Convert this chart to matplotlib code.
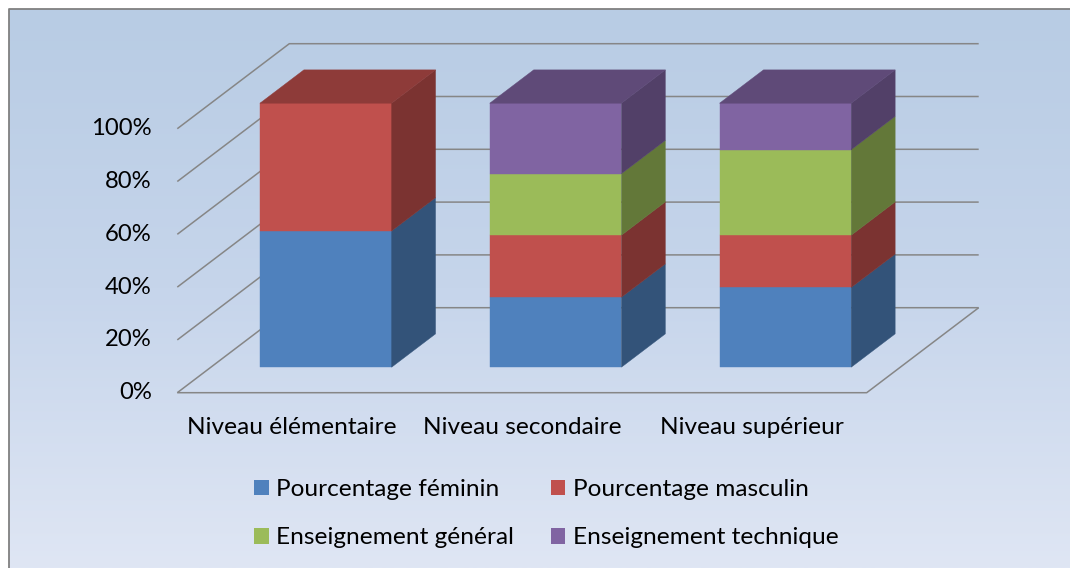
import numpy as np
import matplotlib.pyplot as plt
from matplotlib.patches import Polygon, Patch
from matplotlib.colors import to_rgb, LinearSegmentedColormap

# Data: each pair of series is given in percent and the whole stack is scaled to 100 %
categories = ["Niveau élémentaire", "Niveau secondaire", "Niveau supérieur"]
series_names = ["Pourcentage féminin", "Pourcentage masculin",
                "Enseignement général", "Enseignement technique"]
feminin = [51.6, 53.0, 60.4]
masculin = [48.4, 47.0, 39.6]
general = [0.0, 46.6, 64.8]
technique = [0.0, 53.4, 35.2]
series_colors = ["#4f81bd", "#c0504d", "#9bbb59", "#8064a2"]
y_ticks = [0, 20, 40, 60, 80, 100]

plt.rcParams['font.family'] = ['Lato', 'DejaVu Sans']
FS = 17.6
TICK_FS = 17.2

W, H = 1070, 568
fig = plt.figure(figsize=(W / 100, H / 100), dpi=100)

# background: vertical gradient with a grey border on the top and left
bg = fig.add_axes([0, 0, 1, 1])
bg.set_xlim(0, W)
bg.set_ylim(H, 0)
bg.axis('off')
grad = np.linspace(0, 1, 256).reshape(-1, 1)
cmap = LinearSegmentedColormap.from_list('bg', ['#b8cce4', '#c6d5eb', '#dfe6f4'])
bg.imshow(grad, cmap=cmap, aspect='auto', extent=[9, W, H, 9], zorder=0)
bg.plot([8.5, 8.5, W], [H, 8.5, 8.5], color='#808080', lw=1.3, zorder=1)

# main axes in (category, percent) units with an oblique depth offset
ax = fig.add_axes([0, 0, 1, 1])
ax.patch.set_alpha(0)
ax.axis('off')
x0_px, y0_px = 177.3, 392.7
px_per_cat, px_per_pct = 229.8, 2.64
ax.set_xlim(-x0_px / px_per_cat, (W - x0_px) / px_per_cat)
ax.set_ylim(-(H - y0_px) / px_per_pct, y0_px / px_per_pct)

DX = 112 / px_per_cat   # horizontal shift for full depth
DY = 85 / px_per_pct    # vertical shift for full depth
n = len(categories)


def proj(x, y, d):
    return x + d * DX, y + d * DY


grid_kw = dict(color='#868686', lw=1.1, zorder=1, solid_capstyle='butt')
for v in y_ticks:
    xa, ya = proj(0, v, 0)
    xb, yb = proj(0, v, 1)
    xc, yc = proj(n, v, 1)
    ax.plot([xa, xb, xc], [ya, yb, yc], **grid_kw)
fa = proj(0, 0, 0)
fb = proj(n, 0, 0)
fc = proj(n, 0, 1)
ax.plot([fa[0], fb[0], fc[0]], [fa[1], fb[1], fc[1]], **grid_kw)

# stacked 3D bars
values = np.array([feminin, masculin, general, technique])
shares = values / values.sum(axis=0) * 100
bar_w = 0.573
d0, d1 = 0.3, 0.692


def shade(c, f):
    return tuple(np.array(to_rgb(c)) * f)


for i in range(n):
    xl = i + (1 - bar_w) / 2
    xr = xl + bar_w
    bottom = 0.0
    nz = [k for k in range(len(series_names)) if shares[k, i] > 0]
    for k in nz:
        top = bottom + shares[k, i]
        col = series_colors[k]
        front = [proj(xl, bottom, d0), proj(xr, bottom, d0),
                 proj(xr, top, d0), proj(xl, top, d0)]
        side = [proj(xr, bottom, d0), proj(xr, bottom, d1),
                proj(xr, top, d1), proj(xr, top, d0)]
        ax.add_patch(Polygon(front, closed=True, fc=col, ec=col, lw=0.3, zorder=3))
        sc = shade(col, 0.64)
        ax.add_patch(Polygon(side, closed=True, fc=sc, ec=sc, lw=0.3, zorder=3))
        if k == nz[-1]:
            lid = [proj(xl, top, d0), proj(xr, top, d0),
                   proj(xr, top, d1), proj(xl, top, d1)]
            tc = shade(col, 0.74)
            ax.add_patch(Polygon(lid, closed=True, fc=tc, ec=tc, lw=0.3, zorder=3))
        bottom = top

# axis labels
for v in y_ticks:
    ax.text(-25.6 / px_per_cat, v, f"{v}%", ha='right', va='center', fontsize=TICK_FS)
for i, c in enumerate(categories):
    ax.text(i + 0.5, -35 / px_per_pct, c, ha='center', va='center', fontsize=FS)

# legend laid out in two rows
order = [0, 2, 1, 3]
handles = [Patch(fc=series_colors[k], ec='none') for k in order]
labels = [series_names[k] for k in order]
fig.legend(handles, labels, ncol=2, loc='upper left',
           bbox_to_anchor=(254 / W, 1 - 479 / H), frameon=False, fontsize=FS,
           handlelength=0.6, handleheight=0.6, handletextpad=0.3,
           columnspacing=1.5, labelspacing=1.12, borderpad=0, borderaxespad=0)

fig.savefig('out.png', dpi=100)
